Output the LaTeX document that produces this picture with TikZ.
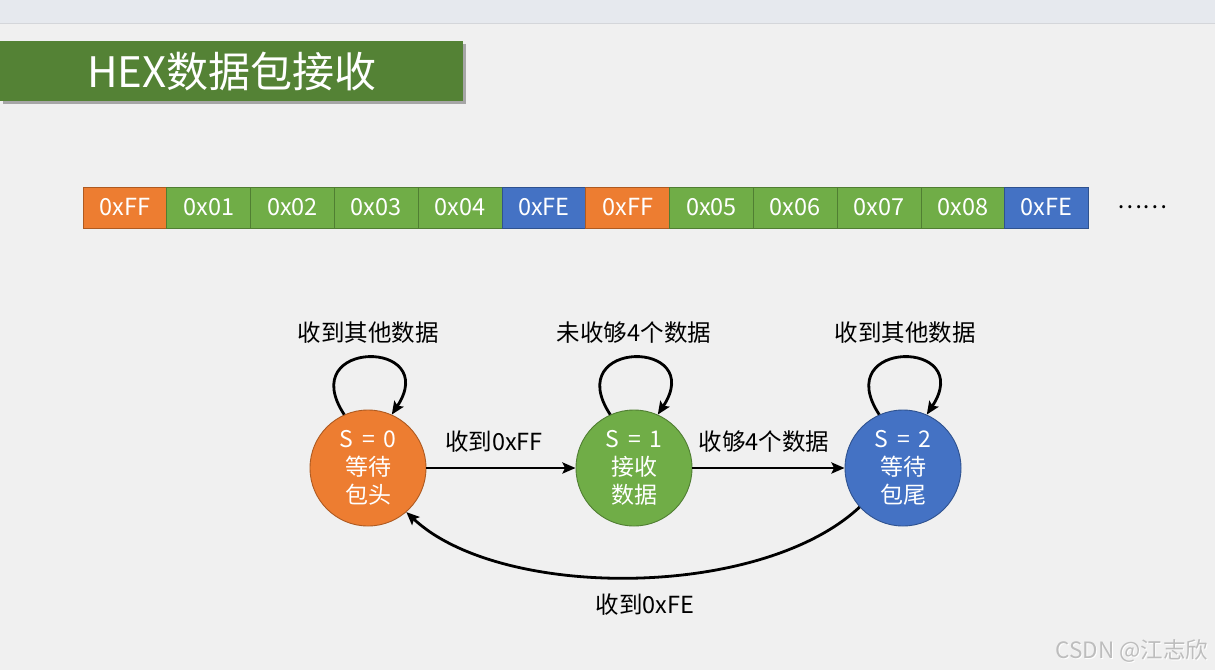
\documentclass[tikz,border=0pt]{standalone}
\usepackage{fontspec}
\setmainfont{Noto Sans CJK SC}
\usetikzlibrary{arrows.meta}

\definecolor{pagebg}{HTML}{F0F0F0}
\definecolor{bandbg}{HTML}{E6E9EE}
\definecolor{bandline}{HTML}{D4D6DA}
\definecolor{titlegreen}{HTML}{548235}
\definecolor{orangefill}{HTML}{ED7D31}
\definecolor{orangeline}{HTML}{AE5A21}
\definecolor{greenfill}{HTML}{70AD47}
\definecolor{greenline}{HTML}{507E32}
\definecolor{bluefill}{HTML}{4472C4}
\definecolor{blueline}{HTML}{2F528F}
\definecolor{markgrey}{HTML}{BDBDBD}

\newcommand{\eqgap}{\hspace{0.38em}}

\tikzset{
  cell/.style={draw, line width=0.9pt, minimum width=83.8pt, minimum height=41pt,
    inner sep=0pt, outer sep=0pt, anchor=west, text=white,
    font=\fontsize{23.5}{23.5}\selectfont},
  headcell/.style={cell, fill=orangefill, draw=orangeline},
  datacell/.style={cell, fill=greenfill, draw=greenline},
  tailcell/.style={cell, fill=bluefill, draw=blueline},
  state/.style={circle, minimum size=116pt, inner sep=0pt, line width=0.9pt,
    align=center, text=white, font=\fontsize{23}{28}\selectfont},
  lbl/.style={text=black, font=\fontsize{23.5}{23.5}\selectfont, inner sep=0pt},
  conn/.style={line width=2.8pt, -{Stealth[length=13pt,width=11pt,inset=2.5pt]}},
  selfloop/.style={conn}
}

\begin{document}
\begin{tikzpicture}[x=1pt,y=-1pt]
  % page and top band
  \fill[pagebg] (0,0) rectangle (1215,670);
  \useasboundingbox (0,0) rectangle (1215,670);
  \fill[bandbg] (0,0) rectangle (1215,23);
  \draw[bandline, line width=1pt] (0,23) -- (1215,23);

  % title bar with shadow
  \fill[black!35] (3,44) rectangle (466,104);
  \fill[titlegreen] (0,41) rectangle (463,101);
  \node[anchor=west, text=white, inner sep=0pt, font=\fontsize{42}{42}\selectfont]
    (title) at (87,71) {HEX数据包接收};

  % byte stream
  \node[headcell] (b1)  at (83,207.5) {0xFF};
  \node[datacell] (b2)  at (b1.east)  {0x01};
  \node[datacell] (b3)  at (b2.east)  {0x02};
  \node[datacell] (b4)  at (b3.east)  {0x03};
  \node[datacell] (b5)  at (b4.east)  {0x04};
  \node[tailcell] (b6)  at (b5.east)  {0xFE};
  \node[headcell] (b7)  at (b6.east)  {0xFF};
  \node[datacell] (b8)  at (b7.east)  {0x05};
  \node[datacell] (b9)  at (b8.east)  {0x06};
  \node[datacell] (b10) at (b9.east)  {0x07};
  \node[datacell] (b11) at (b10.east) {0x08};
  \node[tailcell] (b12) at (b11.east) {0xFE};
  \node[lbl] (more) at (1142,207) {……};

  % states
  \node[state, fill=orangefill, draw=orangeline] (s0) at (368,468) {S\eqgap=\eqgap0\\等待\\包头};
  \node[state, fill=greenfill, draw=greenline]   (s1) at (634,468) {S\eqgap=\eqgap1\\接收\\数据};
  \node[state, fill=bluefill, draw=blueline]     (s2) at (903,468) {S\eqgap=\eqgap2\\等待\\包尾};

  % transitions
  \draw[conn] (s0) -- (s1);
  \draw[conn] (s1) -- (s2);
  \draw[conn] (s2.222) .. controls (760,600) and (500,600) .. (s0.311);

  % self loops
  \draw[selfloop] (s0.114) .. controls +(-50,-76) and +(50,-76) .. (s0.66);
  \draw[selfloop] (s1.114) .. controls +(-50,-76) and +(50,-76) .. (s1.66);
  \draw[selfloop] (s2.114) .. controls +(-50,-76) and +(50,-76) .. (s2.66);

  % transition labels
  \node[lbl] (l01)   at (494,442) {收到0xFF};
  \node[lbl] (l12)   at (764,442) {收够4个数据};
  \node[lbl] (l20)   at (645,605) {收到0xFE};
  \node[lbl] (loop0) at (368,333) {收到其他数据};
  \node[lbl] (loop1) at (634,333) {未收够4个数据};
  \node[lbl] (loop2) at (905,333) {收到其他数据};

  % watermark
  \node[text=white, font=\fontsize{22.5}{22.5}\selectfont, inner sep=0pt] at (1133,652) {CSDN @江志欣};
  \node[text=markgrey, font=\fontsize{22.5}{22.5}\selectfont, inner sep=0pt] (mark) at (1132,651) {CSDN @江志欣};
\end{tikzpicture}
\end{document}
